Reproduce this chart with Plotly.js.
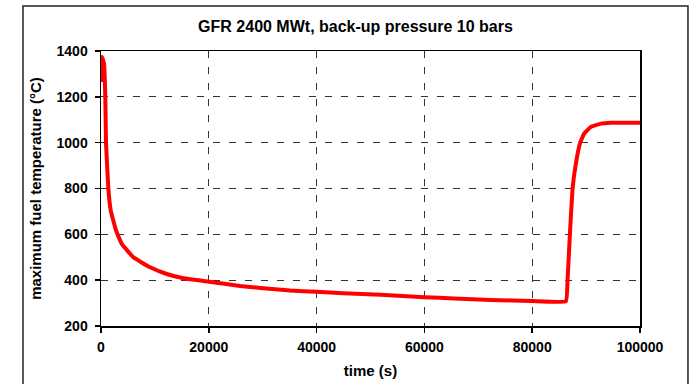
<!DOCTYPE html>
<html>
<head>
<meta charset="utf-8">
<script src="https://cdn.plot.ly/plotly-3.0.1.min.js"></script>
<style>
html,body{margin:0;padding:0;background:#fff;}
#chart{width:693px;height:384px;}
</style>
</head>
<body>
<div id="chart"></div>
<script>
// time (s)
var timeS = [0, 186, 560, 800, 930, 1360, 1800, 2790, 3840, 6000, 9100, 12200, 15300, 20000, 25800, 29550, 35100, 40000, 45000, 51900, 60000, 65500, 72300, 80000, 86250, 86560, 86990, 87490, 88100, 88900, 89650, 90900, 92750, 94600, 100000];
// maximum fuel temperature (°C)
var tempC = [1265, 1374, 1345, 1200, 1000, 800, 705, 617, 559, 500, 456, 427, 408, 393, 375, 366, 355, 349, 343, 336, 326, 320, 314, 309, 308, 400, 600, 800, 908, 1000, 1040, 1069, 1083, 1087, 1087];
var xTicks = [0, 20000, 40000, 60000, 80000, 100000];
var yTicks = [200, 400, 600, 800, 1000, 1200, 1400];

var fnt = 'Arial, "Liberation Sans", sans-serif';
var trace = {
  x: timeS, y: tempC, type: 'scatter', mode: 'lines',
  line: {color: '#ff0000', width: 4, shape: 'spline', smoothing: 0.3},
  hoverinfo: 'x+y'
};
var layout = {
  width: 693, height: 384,
  margin: {l: 101, r: 53, t: 51, b: 58},
  paper_bgcolor: '#fff', plot_bgcolor: '#fff',
  showlegend: false,
  title: {text: '<b>GFR 2400 MWt, back-up pressure 10 bars</b>', font: {family: fnt, size: 16, color: '#000'},
          x: 0.513, xref: 'container', xanchor: 'center', y: 0.93, yref: 'container', yanchor: 'middle'},
  xaxis: {
    range: [0, 100000], tickvals: xTicks, ticktext: xTicks.map(String),
    showline: true, linecolor: '#000', linewidth: 1.5, mirror: true,
    ticks: 'outside', ticklen: 5, tickcolor: '#000', tickwidth: 1.5,
    showgrid: true, gridcolor: '#333', gridwidth: 1, griddash: '7px,9px',
    zeroline: false, ticklabelstandoff: 3,
    tickfont: {family: fnt, size: 14, color: '#000', weight: 'bold'},
    title: {text: '<b>time (s)</b>', font: {family: fnt, size: 15, color: '#000'}, standoff: 11}
  },
  yaxis: {
    range: [200, 1400], tickvals: yTicks, ticktext: yTicks.map(String),
    showline: true, linecolor: '#000', linewidth: 1.5, mirror: true,
    ticks: 'outside', ticklen: 5, tickcolor: '#000', tickwidth: 1.5,
    showgrid: true, gridcolor: '#333', gridwidth: 1, griddash: '7px,9px',
    zeroline: false, ticklabelstandoff: 4,
    tickfont: {family: fnt, size: 14, color: '#000', weight: 'bold'},
    title: {text: '<b>maximum fuel temperature (°C)</b>', font: {family: fnt, size: 15, color: '#000'}, standoff: 11}
  },
  shapes: [{
    type: 'rect', xref: 'paper', yref: 'paper',
    x0: -0.1447, x1: 1.089, y0: -0.3, y1: 1.1636,
    line: {color: '#222', width: 1.5}, fillcolor: 'rgba(0,0,0,0)', layer: 'below'
  }]
};
Plotly.newPlot('chart', [trace], layout, {displayModeBar: false, staticPlot: true});
</script>
</body>
</html>
